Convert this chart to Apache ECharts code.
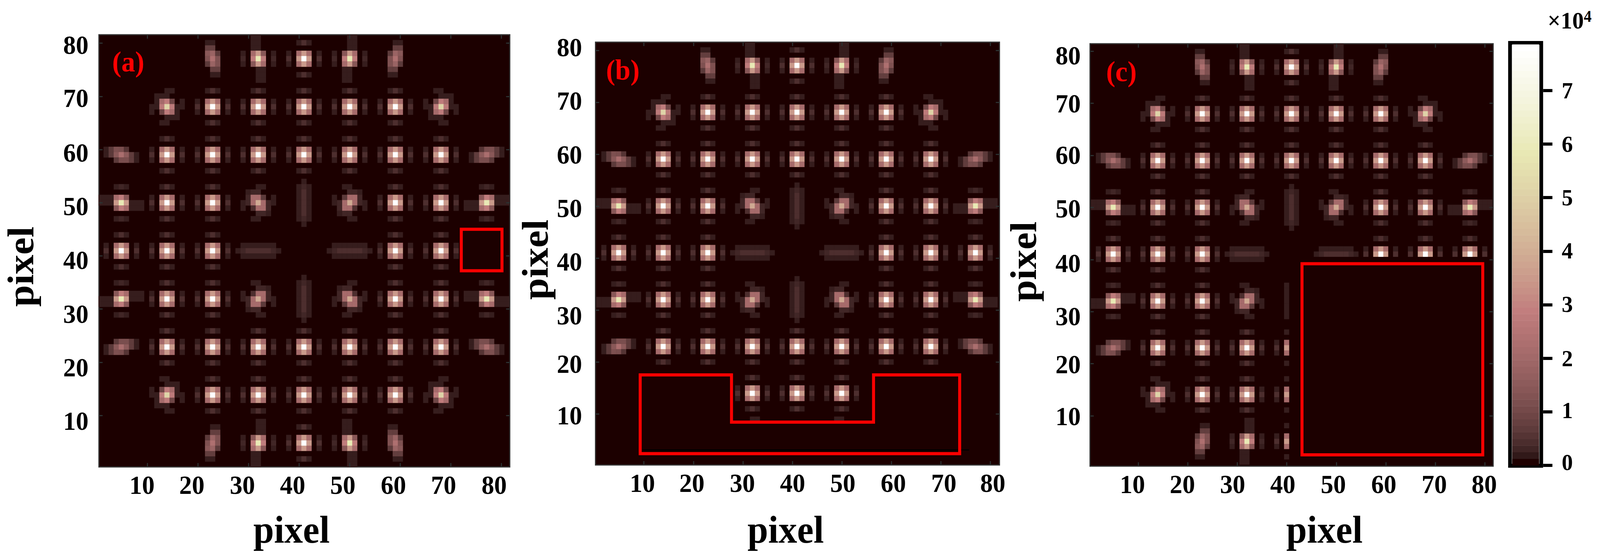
<!DOCTYPE html>
<html><head><meta charset="utf-8">
<style>html,body{margin:0;padding:0;background:#fff;overflow:hidden;width:100%;height:100%}#c{width:4303px;height:1419px;position:absolute;left:0;top:0;transform-origin:0 0}</style>
<script src="https://cdn.jsdelivr.net/npm/echarts@6/dist/echarts.min.js"></script>
</head><body><div id="c"></div>
<script>
// ---------- data (values in thousands of counts) ----------
const gridSize = 81;
const spotCols = [5, 14, 23, 32, 41, 50, 59, 68, 77];
const spotRows = [77, 68, 59, 50, 41, 32, 23, 14, 5];
const spotLayout = [
  '..BVWVB..',
  '.CWWWWWC.',
  'SWWWWWWWS',
  'HWWRvRWWH',
  'WWWh.hWWW',
  'HWWRvRWWH',
  'SWWWWWWWS',
  '.CWWWWWC.',
  '..BVWVB..'
];
// each template is centred on its spot, first line = top, drawn for the upper-left quadrant
const whiteSpot = [
  [0,0,1.6,4,1.6,0,0],
  [0,0,0,0,0,0,0],
  [1.6,0,21,35,21,0,1.6],
  [4,0,35,78.6,35,0,4],
  [1.6,0,21,35,21,0,1.6],
  [0,0,0,0,0,0,0],
  [0,0,1.6,4,1.6,0,0]
];
const cornerSpot = [
  [0,0,0,1.6,1.6,0,0],
  [0,1.6,1.6,1.6,0,0,0],
  [0,1.6,21,28,9,0,1.6],
  [1.6,1.6,27,51,27,1.6,1.6],
  [1.6,0,9,28,21,1.6,0],
  [0,0,0,1.6,1.6,1.6,0],
  [0,0,1.6,1.6,0,0,0]
];
const tallBlob = [
  [1.6,1.6,0],
  [7,7,0],
  [14,18,6],
  [12,23,12],
  [6,18,12],
  [0,7,7],
  [0,1.6,1.6]
];
const wideBlob = [
  [1.6,6,11.6,11,5,0,0],
  [1.6,6,14,22,15,6.5,1.6],
  [0,0,6,11,11,6.5,1.6]
];
const verticalTail = [
  [0,0,1.6,1.6,0,0,0],
  [0,0,1.6,1.6,0,0,0],
  [0,0,1.6,1.6,0,0,0],
  [1.6,0,21,35,13.7,0,1.6],
  [2.6,0,28,59,28,0,2.6],
  [1.6,0,13.7,35,21,0,1.6],
  [0,0,0,1.6,1.6,0,0],
  [0,0,0,1.6,1.6,0,0],
  [0,0,0,1.6,1.6,0,0]
];
const horizontalTail = [
  [0,0,0,1.6,2.6,1.6,0,0,0],
  [0,0,0,0,0,0,0,0,0],
  [1.6,1.6,1.6,21,28,13.7,0,0,0],
  [1.6,1.6,1.6,35,59,35,1.6,1.6,1.6],
  [0,0,0,13.7,28,21,1.6,1.6,1.6],
  [0,0,0,0,0,0,0,0,0],
  [0,0,0,1.6,2.6,1.6,0,0,0]
];
const rotatedSpot = [
  [0,0,0,1.6,1.6,0,0],
  [0,1.6,2.6,2.6,0,0,0],
  [0,2.6,21,21,6,0,1.6],
  [1.6,2.6,21,39,21,2.6,1.6],
  [1.6,0,4,21,21,2.6,0],
  [0,0,0,2.6,2.6,1.6,0],
  [0,0,1.6,1.6,0,0,0]
];
const verticalBand = [
  [0,1.6,0],[1.6,2.6,1.6],[1.6,4,1.6],[1.6,4,1.6],[1.6,4,1.6],
  [1.6,4,1.6],[1.6,4,1.6],[1.6,2.6,1.6],[0,1.6,0]
];
const horizontalBand = [
  [0,1.6,1.6,1.6,1.6,1.6,1.6,1.6,0],
  [1.6,2.6,4,4,4,4,4,2.6,1.6],
  [0,1.6,1.6,1.6,1.6,1.6,1.6,1.6,0]
];
// blanked-out cells of each panel: [col0, col1, row0, row1]
const blankA = [[72,81,37,45]];
const blankB = [[10,27,1,18],[55,73,1,18],[28,54,1,8]];
const blankC = [[41,81,1,40]];
// red outlines, in axis units
const redBoxA = [[72.1,37.2],[72.1,45],[80.15,45],[80.15,37.2],[72.1,37.2]];
const redBoxB = [[9.25,2.33],[9.25,17.5],[27.7,17.5],[27.7,8.4],[56.4,8.4],[56.4,17.5],[73.8,17.5],[73.8,2.33],[9.25,2.33]];
const redBoxC = [[43.07,2.5],[43.07,39.2],[79.6,39.2],[79.6,2.5],[43.07,2.5]];
const blackStrokeB = [[9.7,3.05],[75.7,3.05]];
// tick labels
const tickValues = [10,20,30,40,50,60,70,80];
const xLabelSpotsA = [8.97,18.82,28.82,38.75,48.68,58.68,68.6,78.6];
const yLabelSpotsA = [8.97,19.03,29.09,39.2,49.35,59.4,69.7,79.7];
const xLabelSpotsB = [9.7,19.7,29.9,40.05,50.2,60.4,70.6,80.5];
const yLabelSpotsB = [9.7,19.6,28.95,39.3,49.65,59.9,70.3,80.6];
const xLabelSpotsC = [8.8,18.9,29.05,39.2,49.4,59.6,69.8,79.9];
const yLabelSpotsC = [9.95,19.9,29.15,39.3,49.8,60.1,70,79.2];
const colorbarTicks = [0,10,20,30,40,50,60,70];
const colorbarLabelSpots = [0.6,10.3,20,30.1,40.1,50,60,70];
const colorbarMax = 78.6;
const colorbarLevels = [0,1.2,2.5,3.7,5,6.2,7.5,8.7,10,11.2,12.5,13.7,15,16.2,17.5,18.7,20,21.2,22.5,23.7,25,26.2,27.4,28.7,29.9,31.2,32.4,33.7,34.9,36.2,37.4,38.7,39.9,41.2,42.4,43.7,44.9,46.2,47.4,48.7,49.9,51.2,52.4,53.7,54.9,56.1,57.4,58.6,59.9,61.1,62.4,63.6,64.9,66.1,67.4,68.6,69.9,71.1,72.4,73.6,74.9,76.1,77.4,78.6];

// ---------- style and layout ----------
const SERIF = '"Liberation Serif","Times New Roman",serif';
const BG = '#1c0000';
const panels = [
  {frame:[266,1371,89,1196], img:[265,1370,89,1196], t10x:396, ux:13.6, t10y:1064, uy:13.62,
   blank:blankA, box:redBoxA, xl:xLabelSpotsA, yl:yLabelSpotsA, name:'(a)', nameAt:[345,158],
   xTitle:[784,1356], yTitle:[56,683], yMargin:28},
  {frame:[1601.5,2688,108,1191], img:[1604,2683,108,1187], t10x:1731.7, ux:13.31, t10y:1060, uy:13.3,
   blank:blankB, box:redBoxB, extra:blackStrokeB, xl:xLabelSpotsB, yl:yLabelSpotsB, name:'(b)', nameAt:[1675,179],
   xTitle:[2113,1356], yTitle:[1439,665], yMargin:36},
  {frame:[2931.5,4015.7,112,1194], img:[2934,4013,112,1190], t10x:3061.5, ux:13.307, t10y:1065, uy:13.34,
   blank:blankC, box:redBoxC, xl:xLabelSpotsC, yl:yLabelSpotsC, name:'(c)', nameAt:[3016,183],
   xTitle:[3562,1356], yTitle:[2752,670], yMargin:25}
];

function pinkColors(n){
  const out=[];
  const n1=Math.floor(3*n/8), n2=Math.floor(3*n/4);
  for(let i=0;i<n;i++){
    const g=i/(n-1);
    const r=Math.min(1,(i+1)/n1);
    const gg=i<n1?0:Math.min(1,(i-n1+1)/n1);
    const b=i<n2?0:(i-n2+1)/(n-n2);
    const f=h=>Math.round(255*Math.sqrt((2*g+h)/3));
    out.push(`rgb(${f(r)},${f(gg)},${f(b)})`);
  }
  return out;
}

const templates = {W:whiteSpot,C:cornerSpot,B:tallBlob,S:wideBlob,V:verticalTail,H:horizontalTail,R:rotatedSpot,v:verticalBand,h:horizontalBand};

function panelCells(blank){
  const cells=new Map();
  spotLayout.forEach((line,ri)=>{
    [...line].forEach((tok,ci)=>{
      const t=templates[tok]; if(!t) return;
      const c0=spotCols[ci], r0=spotRows[ri];
      const h=t.length, w=t[0].length;
      t.forEach((rowVals,i)=>rowVals.forEach((v,j)=>{
        if(!v) return;
        let dx=j-(w-1)/2, dy=i-(h-1)/2;
        if(c0>41) dx=-dx;
        if(r0<41) dy=-dy;
        const c=c0+dx, r=r0-dy;
        if(c<1||c>gridSize||r<1||r>gridSize) return;
        if(blank.some(b=>c>=b[0]&&c<=b[1]&&r>=b[2]&&r<=b[3])) return;
        cells.set(c+','+r,[c-1,r-1,v]);
      }));
    });
  });
  return [...cells.values()];
}

const cats=Array.from({length:gridSize},(_,i)=>String(i+1));
const grid=[],xAxis=[],yAxis=[],series=[],graphic=[],heatIdx=[];
const tickStyle={show:true,inside:true,length:10,lineStyle:{color:'#2b3030',width:3}};
const labelFont={fontFamily:SERIF,fontWeight:'bold',fontSize:68,color:'#000'};

panels.forEach(p=>{
  const gF=grid.length;
  const [L,R,T,B]=p.frame;
  grid.push({left:L,top:T,width:R-L,height:B-T,show:true,backgroundColor:BG,borderColor:'#333',borderWidth:3,z:0});
  const [iL,iR,iT,iB]=p.img;
  grid.push({left:iL,top:iT,width:iR-iL,height:iB-iT,show:false});
  const xmin=10-(p.t10x-L)/p.ux, xmax=10+(R-p.t10x)/p.ux;
  const ymin=10-(B-p.t10y)/p.uy, ymax=10+(p.t10y-T)/p.uy;
  const xB=xAxis.length, yL=yAxis.length;
  xAxis.push({type:'value',gridIndex:gF,position:'bottom',min:xmin,max:xmax,z:5,
    axisLine:{show:false},splitLine:{show:false},
    axisTick:{...tickStyle,customValues:tickValues},
    axisLabel:{...labelFont,margin:12,customValues:p.xl,formatter:v=>String(Math.round(v/10)*10)}});
  xAxis.push({type:'value',gridIndex:gF,position:'top',min:xmin,max:xmax,z:5,
    axisLine:{show:false},splitLine:{show:false},
    axisTick:{...tickStyle,customValues:tickValues},axisLabel:{show:false}});
  xAxis.push({type:'category',gridIndex:gF+1,data:cats,show:false});
  yAxis.push({type:'value',gridIndex:gF,position:'left',min:ymin,max:ymax,z:5,
    axisLine:{show:false},splitLine:{show:false},
    axisTick:{...tickStyle,customValues:tickValues},
    axisLabel:{...labelFont,margin:p.yMargin,customValues:p.yl,formatter:v=>String(Math.round(v/10)*10)}});
  yAxis.push({type:'value',gridIndex:gF,position:'right',min:ymin,max:ymax,z:5,
    axisLine:{show:false},splitLine:{show:false},
    axisTick:{...tickStyle,customValues:tickValues},axisLabel:{show:false}});
  yAxis.push({type:'category',gridIndex:gF+1,data:cats,show:false});
  heatIdx.push(series.length);
  series.push({type:'heatmap',xAxisIndex:xB+2,yAxisIndex:yL+2,data:panelCells(p.blank),progressive:0,
    silent:true,itemStyle:{borderWidth:0},emphasis:{disabled:true},z:2});
  if(p.extra) series.push({type:'line',xAxisIndex:xB,yAxisIndex:yL,data:p.extra,symbol:'none',silent:true,clip:false,
    lineStyle:{color:'#000',width:3},z:3});
  series.push({type:'line',xAxisIndex:xB,yAxisIndex:yL,data:p.box,symbol:'none',silent:true,clip:false,
    lineStyle:{color:'#f00',width:8,join:'miter',cap:'square'},z:4});
  graphic.push({type:'text',x:p.nameAt[0],y:p.nameAt[1],z:10,style:{text:p.name,fill:'#f00',align:'center',verticalAlign:'middle',
    fontFamily:SERIF,fontWeight:'bold',fontSize:74}});
  graphic.push({type:'text',x:p.xTitle[0],y:p.xTitle[1],z:10,style:{text:'pixel',fill:'#000',align:'center',verticalAlign:'middle',
    fontFamily:SERIF,fontWeight:'bold',fontSize:100}});
  graphic.push({type:'text',x:p.yTitle[0],y:p.yTitle[1],rotation:Math.PI/2,z:10,style:{text:'pixel',fill:'#000',align:'center',verticalAlign:'middle',
    fontFamily:SERIF,fontWeight:'bold',fontSize:100}});
});

// colour bar: black frame grid + inner grid with one band per colormap level
const gO=grid.length;
grid.push({left:4061,top:110,width:84,height:1083,show:true,backgroundColor:'transparent',borderColor:'#000',borderWidth:10,z:0});
xAxis.push({type:'value',gridIndex:gO,min:0,max:1,show:false});
yAxis.push({type:'value',gridIndex:gO,min:0,max:1,show:false});
const gI=grid.length;
grid.push({left:4067,top:114,width:72,height:1078,show:false});
const xI=xAxis.length,yI=yAxis.length;
xAxis.push({type:'category',gridIndex:gI,data:['0'],show:false});
yAxis.push({type:'category',gridIndex:gI,data:colorbarLevels.map(String),show:false});
yAxis.push({type:'value',gridIndex:gI,position:'right',offset:11,min:0,max:colorbarMax,
  axisLine:{show:false},splitLine:{show:false},
  axisTick:{show:true,length:25,lineStyle:{color:'#000',width:8},customValues:colorbarTicks},
  axisLabel:{fontFamily:SERIF,fontWeight:'bold',fontSize:60,color:'#000',margin:50,align:'left',
    customValues:colorbarLabelSpots,formatter:v=>String(Math.round(v/10))}});
heatIdx.push(series.length);
series.push({type:'heatmap',xAxisIndex:xI,yAxisIndex:yI,progressive:0,silent:true,emphasis:{disabled:true},z:2,
  data:colorbarLevels.map((v,i)=>[0,i,v])});
graphic.push({type:'text',x:4162,y:52,z:10,style:{text:'{m|×10}{s|4}',fill:'#000',align:'left',verticalAlign:'middle',
  rich:{m:{fontFamily:SERIF,fontWeight:'bold',fontSize:62,fill:'#000'},
        s:{fontFamily:SERIF,fontWeight:'bold',fontSize:42,fill:'#000',verticalAlign:'top'}}}});

// The browser window may be narrower than the 4303-unit layout; squeeze to fit it.
const host=document.getElementById('c');
host.style.transform=`scaleX(${Math.min(1,window.innerWidth/4303)})`;
const chart=echarts.init(host,null,{renderer:'svg',width:4303,height:1419});
chart.setOption({
  animation:false,backgroundColor:'#fff',grid,xAxis,yAxis,series,graphic,
  visualMap:{type:'continuous',show:false,min:0,max:colorbarMax,seriesIndex:heatIdx,inRange:{color:pinkColors(64)}}
});
</script></body></html>
